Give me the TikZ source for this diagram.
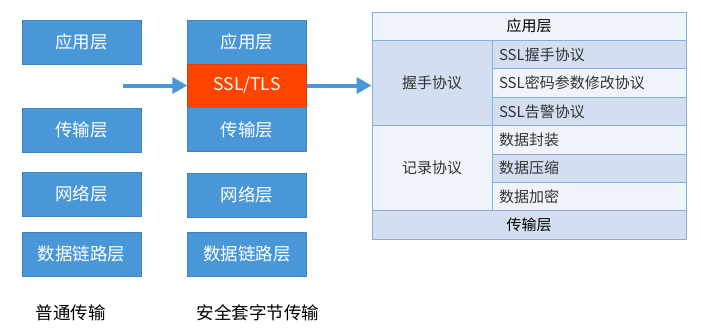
\documentclass[tikz,border=0pt]{standalone}
\usepackage{fontspec}
\setmainfont{Noto Sans CJK SC}
\usetikzlibrary{arrows.meta,positioning}
\definecolor{layerblue}{HTML}{4A97D8}
\definecolor{layeredge}{HTML}{3F84C0}
\definecolor{sslred}{HTML}{FF4400}
\definecolor{ssledge}{HTML}{D93A10}
\definecolor{cellline}{HTML}{86AEDC}
\definecolor{celldark}{HTML}{D3DFF1}
\definecolor{celllight}{HTML}{EFF3FA}
\definecolor{celltext}{HTML}{333333}

\begin{document}
\begin{tikzpicture}[
  x=1pt,y=-1pt,
  >={Triangle[length=15pt,width=16pt]},
  layer/.style={draw=layeredge,fill=layerblue,text=white,minimum width=119pt,minimum height=44pt,inner sep=0pt,font=\fontsize{17.5}{20}\selectfont},
  cell/.style={draw=cellline,line width=1pt,text=celltext,inner sep=0pt,font=\fontsize{15}{17}\selectfont},
  rcell/.style={cell,minimum width=194pt,minimum height=28.4pt,text width=180pt,align=left},
  wide/.style={cell,minimum width=314pt,minimum height=28.4pt,text=black},
  caption/.style={font=\fontsize{17.5}{20}\selectfont},
]
  \useasboundingbox (0,0) rectangle (701,330);

  % normal stack
  \node[layer] (app1) at (81.5,42) {应用层};
  \node[layer] (tr1) at (81.5,130) {传输层};
  \node[layer] (net1) at (81.5,194) {网络层};
  \node[layer] (dl1) at (81.5,254) {数据链路层};
  \node[caption] (cap1) at (70.5,313) {普通传输};

  % secure stack
  \node[layer] (app2) at (247,42) {应用层};
  \node[layer,fill=sslred,draw=ssledge,minimum height=43pt] (ssl) at (247,85.5) {SSL/TLS};
  \node[layer] (tr2) at (247,129.5) {传输层};
  \node[layer] (net2) at (247,195) {网络层};
  \node[layer] (dl2) at (247,254) {数据链路层};
  \node[caption] (cap2) at (258,313) {安全套字节传输};

  % SSL/TLS table
  \node[wide,fill=celllight] (top) at (529,26.2) {应用层};
  \node[cell,fill=celldark,minimum width=120pt,minimum height=85.2pt] (hs) at (432,83) {握手协议};
  \node[cell,fill=celllight,minimum width=120pt,minimum height=85.2pt] (rec) at (432,168.2) {记录协议};
  \foreach \y/\t/\c [count=\i] in {
      54.6/SSL握手协议/celldark,
      83/SSL密码参数修改协议/celllight,
      111.4/SSL告警协议/celldark,
      139.8/数据封装/celllight,
      168.2/数据压缩/celldark,
      196.6/数据加密/celllight}
    \node[rcell,fill=\c] (r\i) at (589,\y) {\t};
  \node[wide,fill=celldark] (bot) at (529,225) {传输层};

  \coordinate (start) at (123,85.5);
  \draw[->,line width=4pt,layerblue] (start) -- (ssl.west);
  \draw[->,line width=4pt,layerblue] (ssl.east) -- (ssl.east -| hs.west);
\end{tikzpicture}
\end{document}
